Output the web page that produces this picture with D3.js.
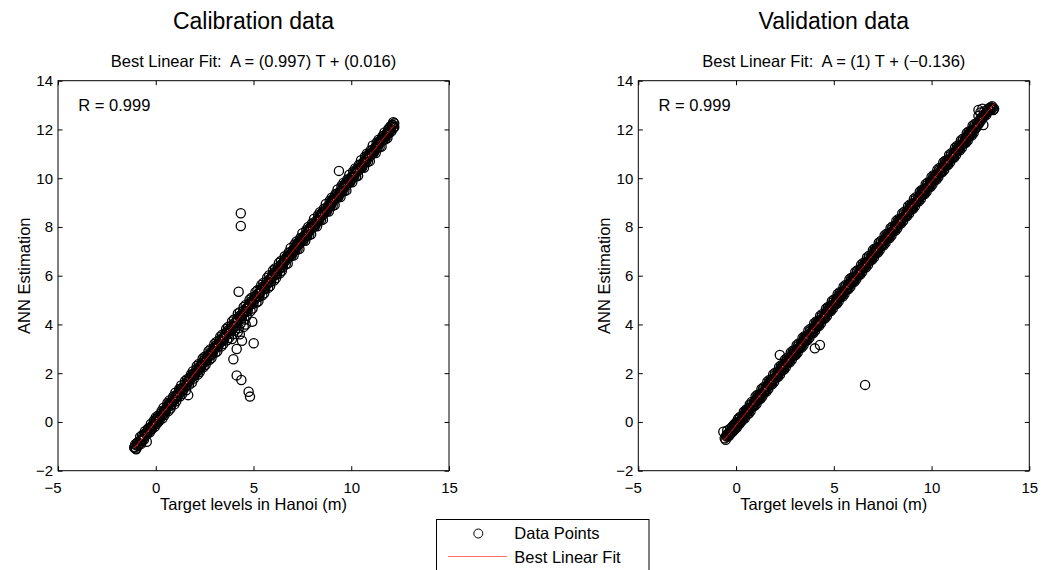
<!DOCTYPE html>
<html>
<head>
<meta charset="utf-8">
<script src="https://cdn.jsdelivr.net/npm/d3@7"></script>
<style>
  html, body { margin: 0; padding: 0; background: #fff; }
  svg { display: block; font-family: "Liberation Sans", Arial, Helvetica, sans-serif; }
  text { white-space: pre; }
</style>
</head>
<body>
<svg id="chart" width="1043" height="570"></svg>
<script>
// ---------------- DATA ----------------
const panelTitles = ["Calibration data", "Validation data"];
const fitLabels = ["Best Linear Fit:  A = (0.997) T + (0.016)", "Best Linear Fit:  A = (1) T + (\u22120.136)"];
const rLabels = ["R = 0.999", "R = 0.999"];
const fitSlope = [0.997, 1];
const fitIntercept = [0.016, -0.136];
const xTicks = [-5, 0, 5, 10, 15];
const yTicks = [-2, 0, 2, 4, 6, 8, 10, 12, 14];
const xLabel = "Target levels in Hanoi (m)";
const yLabel = "ANN Estimation";
const legendLabels = ["Data Points", "Best Linear Fit"];

// Calibration: [target, estimate] — band edges and outliers
const calPoints = [
[-1.1,-1.05],[-1.05,-0.92],[-1.0,-1.12],[-0.95,-0.85],[-0.9,-0.98],[-0.8,-0.62],[-0.75,-0.9],[-0.7,-0.55],
[-0.6,-0.72],[-0.55,-0.38],[-0.46,-0.81],[-0.45,-0.5],[-0.4,-0.28],[-0.3,-0.42],[-0.25,-0.08],[-0.2,-0.3],
[-0.1,0.05],[-0.05,-0.2],[0.0,0.18],[0.05,-0.08],[0.1,0.25],[0.15,0.02],[0.2,0.1],[0.3,0.45],[0.35,0.15],
[0.4,0.58],[0.45,0.28],[0.5,0.4],[0.6,0.78],[0.65,0.45],[0.7,0.88],[0.75,0.55],[0.8,0.7],[0.9,1.05],
[0.95,0.72],[1.0,1.2],[1.05,0.85],[1.1,1.02],[1.2,1.35],[1.25,1.05],[1.3,1.5],[1.35,1.15],[1.4,1.3],
[1.5,1.68],[1.55,1.3],[1.6,1.75],[1.66,1.1],[1.7,1.52],[1.8,1.95],[1.85,1.62],[1.9,2.08],[1.95,1.78],
[2.0,1.92],[2.1,2.3],[2.15,1.95],[2.2,2.38],[2.25,2.05],[2.3,2.2],[2.4,2.6],[2.45,2.25],[2.5,2.68],
[2.55,2.35],[2.6,2.5],[2.7,2.9],[2.75,2.55],[2.8,2.98],[2.85,2.62],[2.9,2.8],[3.0,3.2],[3.05,2.85],
[3.1,3.28],[3.15,2.9],[3.2,3.1],[3.3,3.5],[3.35,3.1],[3.4,3.58],[3.45,3.2],[3.5,3.4],[3.6,3.82],
[3.65,3.35],[3.7,3.9],[3.75,3.45],[3.8,3.65],[3.9,4.12],[3.95,3.6],[4.0,4.2],[4.05,3.75],[4.1,3.95],
[4.2,4.45],[4.25,3.85],[4.3,4.5],[4.35,4.05],[4.4,4.25],[4.5,4.72],[4.55,4.2],[4.6,4.8],[4.65,4.35],
[4.7,4.55],[4.8,5.02],[4.85,4.55],[4.9,5.1],[4.95,4.65],[5.0,4.85],[5.1,5.32],[5.15,4.9],[5.2,5.4],
[5.25,4.95],[5.3,5.15],[5.4,5.62],[5.45,5.2],[5.5,5.7],[5.55,5.28],[5.6,5.45],[5.7,5.92],[5.75,5.5],
[5.8,6.02],[5.85,5.58],[5.9,5.75],[6.0,6.22],[6.05,5.8],[6.1,6.3],[6.15,5.9],[6.2,6.05],[6.3,6.52],
[6.35,6.1],[6.4,6.6],[6.45,6.2],[6.5,6.35],[6.6,6.8],[6.65,6.47],[6.7,6.78],[6.75,6.5],[6.8,6.95],
[6.85,6.8],[6.9,7.14],[6.95,6.83],[7.0,7.02],[7.05,6.83],[7.1,7.28],[7.15,7.05],[7.2,7.4],[7.25,7.07],
[7.3,7.38],[7.35,7.1],[7.4,7.55],[7.45,7.4],[7.5,7.74],[7.55,7.43],[7.6,7.62],[7.65,7.43],[7.7,7.88],
[7.75,7.65],[7.8,8.0],[7.85,7.67],[7.9,7.98],[7.95,7.7],[8.0,8.15],[8.05,8.0],[8.1,8.34],[8.15,8.03],
[8.2,8.22],[8.25,8.03],[8.3,8.48],[8.35,8.25],[8.4,8.6],[8.45,8.27],[8.5,8.58],[8.55,8.3],[8.6,8.75],
[8.65,8.6],[8.7,8.94],[8.75,8.63],[8.8,8.82],[8.85,8.63],[8.9,9.08],[8.95,8.85],[9.0,9.2],[9.05,8.87],
[9.1,9.18],[9.15,8.9],[9.2,9.35],[9.25,9.2],[9.3,9.54],[9.37,10.3],[9.35,9.23],[9.4,9.42],[9.45,9.23],
[9.5,9.68],[9.55,9.45],[9.6,9.8],[9.65,9.47],[9.7,9.78],[9.75,9.5],[9.8,9.95],[9.85,9.8],[9.9,10.14],
[9.95,9.83],[10.0,10.02],[10.05,9.83],[10.1,10.28],[10.15,10.05],[10.2,10.4],[10.25,10.07],[10.3,10.38],
[10.35,10.1],[10.4,10.55],[10.45,10.4],[10.5,10.74],[10.55,10.43],[10.6,10.62],[10.65,10.43],[10.7,10.88],
[10.75,10.65],[10.8,11.0],[10.85,10.67],[10.9,10.98],[10.95,10.7],[11.0,11.15],[11.05,11.0],[11.1,11.34],
[11.15,11.03],[11.2,11.22],[11.25,11.03],[11.3,11.46],[11.35,11.25],[11.4,11.58],[11.45,11.27],[11.5,11.56],
[11.55,11.3],[11.6,11.72],[11.65,11.58],[11.7,11.88],[11.75,11.6],[11.8,11.8],[11.85,11.65],[11.9,12.02],
[11.95,11.85],[12.0,12.12],[12.05,11.92],[12.1,12.2],[12.15,12.05],[12.2,12.25],[12.2,12.1],[12.15,12.3],
[4.35,8.56],[4.35,8.04],[4.24,5.34],[4.94,4.11],[5.01,3.23],[3.97,2.57],[4.14,2.99],[4.41,3.33],
[4.14,1.91],[4.38,1.72],[4.75,1.24],[4.82,1.04],[4.3,3.6],[4.5,3.9],[4.2,3.7],[3.9,3.4],[4.6,4.0]
];
// Calibration: [target, estimate] — band core
const calCore = [
[-1.08,-1.03],[-1.03,-1.09],[-0.98,-0.96],[-0.93,-0.85],[-0.88,-0.91],[-0.83,-0.9],[-0.78,-0.74],[-0.73,-0.73],
[-0.68,-0.73],[-0.63,-0.56],[-0.58,-0.6],[-0.53,-0.47],[-0.48,-0.43],[-0.43,-0.49],[-0.38,-0.4],[-0.33,-0.25],
[-0.28,-0.31],[-0.23,-0.3],[-0.18,-0.14],[-0.13,-0.13],[-0.08,-0.13],[-0.03,0.04],[0.02,0.0],[0.07,0.13],
[0.12,0.17],[0.17,0.11],[0.22,0.2],[0.27,0.35],[0.32,0.29],[0.37,0.3],[0.42,0.46],[0.47,0.47],[0.52,0.47],
[0.57,0.64],[0.62,0.6],[0.67,0.73],[0.72,0.77],[0.77,0.71],[0.82,0.8],[0.87,0.95],[0.92,0.89],[0.97,0.9],
[1.02,1.06],[1.07,1.07],[1.12,1.07],[1.17,1.24],[1.22,1.2],[1.27,1.33],[1.32,1.37],[1.37,1.31],[1.42,1.4],
[1.47,1.55],[1.52,1.49],[1.57,1.5],[1.62,1.66],[1.67,1.67],[1.72,1.67],[1.77,1.84],[1.82,1.8],[1.87,1.93],
[1.92,1.97],[1.97,1.91],[2.02,2.0],[2.07,2.15],[2.12,2.09],[2.17,2.1],[2.22,2.26],[2.27,2.27],[2.32,2.27],
[2.37,2.44],[2.42,2.4],[2.47,2.53],[2.52,2.57],[2.57,2.51],[2.62,2.6],[2.67,2.75],[2.72,2.69],[2.77,2.7],
[2.82,2.86],[2.87,2.87],[2.92,2.87],[2.97,3.04],[3.02,3.0],[3.07,3.13],[3.12,3.17],[3.17,3.11],[3.22,3.2],
[3.27,3.35],[3.32,3.29],[3.37,3.3],[3.42,3.46],[3.47,3.47],[3.52,3.47],[3.57,3.64],[3.62,3.6],[3.67,3.73],
[3.72,3.77],[3.77,3.71],[3.82,3.8],[3.87,3.95],[3.92,3.89],[3.97,3.9],[4.02,4.06],[4.07,4.07],[4.12,4.07],
[4.17,4.24],[4.22,4.2],[4.27,4.33],[4.32,4.37],[4.37,4.31],[4.42,4.4],[4.47,4.55],[4.52,4.49],[4.57,4.5],
[4.62,4.66],[4.67,4.67],[4.72,4.67],[4.77,4.84],[4.82,4.8],[4.87,4.93],[4.92,4.97],[4.97,4.91],[5.02,5.0],
[5.07,5.15],[5.12,5.09],[5.17,5.1],[5.22,5.26],[5.27,5.27],[5.32,5.27],[5.37,5.44],[5.42,5.4],[5.47,5.53],
[5.52,5.57],[5.57,5.51],[5.62,5.6],[5.67,5.75],[5.72,5.69],[5.77,5.7],[5.82,5.86],[5.87,5.87],[5.92,5.87],
[5.97,6.04],[6.02,6.0],[6.07,6.13],[6.12,6.17],[6.17,6.11],[6.22,6.2],[6.27,6.35],[6.32,6.29],[6.37,6.3],
[6.42,6.46],[6.47,6.47],[6.52,6.47],[6.57,6.64],[6.62,6.6],[6.67,6.73],[6.72,6.77],[6.77,6.71],[6.82,6.8],
[6.87,6.95],[6.92,6.89],[6.97,6.9],[7.02,7.06],[7.07,7.07],[7.12,7.07],[7.17,7.24],[7.22,7.2],[7.27,7.33],
[7.32,7.37],[7.37,7.31],[7.42,7.4],[7.47,7.55],[7.52,7.49],[7.57,7.5],[7.62,7.66],[7.67,7.67],[7.72,7.67],
[7.77,7.84],[7.82,7.8],[7.87,7.93],[7.92,7.97],[7.97,7.91],[8.02,8.0],[8.07,8.15],[8.12,8.09],[8.17,8.1],
[8.22,8.26],[8.27,8.27],[8.32,8.27],[8.37,8.44],[8.42,8.4],[8.47,8.53],[8.52,8.57],[8.57,8.51],[8.62,8.6],
[8.67,8.75],[8.72,8.69],[8.77,8.7],[8.82,8.86],[8.87,8.87],[8.92,8.87],[8.97,9.04],[9.02,9.0],[9.07,9.13],
[9.12,9.17],[9.17,9.11],[9.22,9.2],[9.27,9.35],[9.32,9.29],[9.37,9.3],[9.42,9.46],[9.47,9.47],[9.52,9.47],
[9.57,9.64],[9.62,9.6],[9.67,9.73],[9.72,9.77],[9.77,9.71],[9.82,9.8],[9.87,9.95],[9.92,9.89],[9.97,9.9],
[10.02,10.06],[10.07,10.07],[10.12,10.07],[10.17,10.24],[10.22,10.2],[10.27,10.33],[10.32,10.37],[10.37,10.31],
[10.42,10.4],[10.47,10.55],[10.52,10.49],[10.57,10.5],[10.62,10.66],[10.67,10.67],[10.72,10.67],[10.77,10.84],
[10.82,10.8],[10.87,10.93],[10.92,10.97],[10.97,10.91],[11.02,11.0],[11.07,11.15],[11.12,11.09],[11.17,11.1],
[11.22,11.26],[11.27,11.27],[11.32,11.27],[11.37,11.44],[11.42,11.4],[11.47,11.53],[11.52,11.57],[11.57,11.51],
[11.62,11.6],[11.67,11.75],[11.72,11.69],[11.77,11.7],[11.82,11.86],[11.87,11.87],[11.92,11.87],[11.97,12.04],
[12.02,12.0],[12.07,12.13],[12.12,12.17],[12.17,12.11]
];

// Validation: [target, estimate] — band edges and outliers
const valPoints = [
[-0.65,-0.4],[-0.31,-0.47],[-0.5,-0.55],[-0.45,-0.35],[-0.4,-0.6],[-0.35,-0.42],[-0.3,-0.28],[-0.25,-0.45],
[-0.2,-0.2],[-0.15,-0.38],[-0.1,-0.1],[-0.05,-0.3],[0.0,-0.02],[0.05,-0.22],[0.1,0.12],[0.15,-0.1],
[0.2,0.2],[0.25,0.0],[0.3,0.08],[0.35,0.1],[0.4,0.42],[0.45,0.15],[0.5,0.5],[0.55,0.3],[0.6,0.45],
[0.65,0.35],[0.7,0.72],[0.75,0.45],[0.8,0.82],[0.85,0.62],[0.9,0.7],[0.95,0.66],[1.0,1.05],[1.05,0.75],
[1.1,1.12],[1.15,0.92],[1.2,1.0],[1.25,0.95],[1.3,1.35],[1.35,1.05],[1.4,1.42],[1.45,1.22],[1.5,1.3],
[1.55,1.25],[1.6,1.65],[1.65,1.35],[1.7,1.72],[1.75,1.52],[1.8,1.6],[1.85,1.55],[1.9,1.95],[1.95,1.65],
[2.0,2.02],[2.05,1.82],[2.1,1.9],[2.15,1.85],[2.2,2.25],[2.24,2.75],[2.25,1.95],[2.3,2.32],[2.35,2.12],
[2.4,2.2],[2.45,2.15],[2.5,2.55],[2.55,2.25],[2.6,2.62],[2.65,2.42],[2.7,2.5],[2.75,2.45],[2.8,2.85],
[2.85,2.55],[2.9,2.92],[2.95,2.72],[3.0,2.8],[3.05,2.75],[3.1,3.15],[3.15,2.85],[3.2,3.22],[3.25,3.02],
[3.3,3.1],[3.35,3.05],[3.4,3.45],[3.45,3.15],[3.5,3.52],[3.55,3.32],[3.6,3.4],[3.65,3.35],[3.7,3.75],
[3.75,3.45],[3.8,3.82],[3.85,3.62],[3.9,3.7],[3.95,3.65],[4.0,4.05],[4.03,3.02],[4.29,3.16],[4.05,3.75],
[4.1,4.12],[4.15,3.92],[4.2,4.0],[4.25,3.95],[4.3,4.35],[4.35,4.05],[4.4,4.42],[4.45,4.22],[4.5,4.3],
[4.55,4.25],[4.6,4.65],[4.65,4.35],[4.7,4.72],[4.75,4.52],[4.8,4.6],[4.85,4.55],[4.9,4.95],[4.95,4.65],
[5.0,5.02],[5.05,4.82],[5.1,4.9],[5.15,4.85],[5.2,5.25],[5.25,4.95],[5.3,5.32],[5.35,5.12],[5.4,5.2],
[5.45,5.15],[5.5,5.55],[5.55,5.25],[5.6,5.62],[5.65,5.42],[5.7,5.5],[5.75,5.45],[5.8,5.85],[5.85,5.55],
[5.9,5.92],[5.95,5.72],[6.0,5.8],[6.05,5.75],[6.1,6.15],[6.15,5.85],[6.2,6.22],[6.25,6.02],[6.3,6.1],
[6.35,6.05],[6.4,6.45],[6.45,6.15],[6.5,6.52],[6.55,6.32],[6.6,6.4],[6.65,6.35],[6.7,6.75],[6.75,6.45],
[6.8,6.82],[6.85,6.62],[6.9,6.7],[6.95,6.65],[7.0,7.05],[7.05,6.75],[7.1,7.12],[7.15,6.92],[7.2,7.0],
[7.25,6.95],[7.3,7.35],[7.35,7.05],[7.4,7.42],[7.45,7.22],[7.5,7.3],[7.55,7.25],[7.6,7.65],[7.65,7.35],
[7.7,7.72],[7.75,7.52],[7.8,7.6],[7.85,7.55],[7.9,7.95],[7.95,7.65],[8.0,8.02],[8.05,7.82],[8.1,7.9],
[8.15,7.85],[8.2,8.25],[8.25,7.95],[8.3,8.32],[8.35,8.12],[8.4,8.2],[8.45,8.15],[8.5,8.55],[8.55,8.25],
[8.6,8.62],[8.65,8.42],[8.7,8.5],[8.75,8.45],[8.8,8.85],[8.85,8.55],[8.9,8.92],[8.95,8.72],[9.0,8.8],
[9.05,8.75],[9.1,9.15],[9.15,8.85],[9.2,9.22],[9.25,9.02],[9.3,9.1],[9.35,9.05],[9.4,9.45],[9.45,9.15],
[9.5,9.52],[9.55,9.32],[9.6,9.4],[9.65,9.35],[9.7,9.75],[9.75,9.45],[9.8,9.82],[9.85,9.62],[9.9,9.7],
[9.95,9.65],[10.0,10.05],[10.05,9.75],[10.1,10.12],[10.15,9.92],[10.2,10.0],[10.25,9.95],[10.3,10.35],
[10.35,10.05],[10.4,10.42],[10.45,10.22],[10.5,10.3],[10.55,10.25],[10.6,10.65],[10.65,10.35],[10.7,10.72],
[10.75,10.52],[10.8,10.6],[10.85,10.55],[10.9,10.95],[10.95,10.65],[11.0,11.02],[11.05,10.82],[11.1,10.9],
[11.15,10.85],[11.2,11.25],[11.25,10.95],[11.3,11.32],[11.35,11.12],[11.4,11.2],[11.45,11.15],[11.5,11.55],
[11.55,11.25],[11.6,11.62],[11.65,11.42],[11.7,11.5],[11.75,11.45],[11.8,11.85],[11.85,11.55],[11.9,11.92],
[11.95,11.72],[12.0,11.8],[12.05,11.75],[12.1,12.15],[12.15,11.85],[12.2,12.22],[12.25,12.05],[12.3,12.1],
[12.35,12.2],[12.4,12.55],[12.45,12.3],[12.5,12.7],[12.55,12.45],[12.65,12.18],[12.6,12.85],[12.7,12.75],
[12.8,12.6],[12.9,12.85],[13.0,12.9],[13.1,12.95],[13.16,12.8],[13.2,12.85],[12.4,12.8],[6.6,1.52]
];
// Validation: [target, estimate] — band core
const valCore = [
[-0.58,-0.67],[-0.53,-0.73],[-0.48,-0.6],[-0.43,-0.49],[-0.38,-0.55],[-0.33,-0.54],[-0.28,-0.38],[-0.23,-0.37],
[-0.18,-0.37],[-0.13,-0.2],[-0.08,-0.24],[-0.03,-0.11],[0.02,-0.07],[0.07,-0.13],[0.12,-0.04],[0.17,0.11],
[0.22,0.05],[0.27,0.06],[0.32,0.22],[0.37,0.23],[0.42,0.23],[0.47,0.4],[0.52,0.36],[0.57,0.49],[0.62,0.53],
[0.67,0.47],[0.72,0.56],[0.77,0.71],[0.82,0.65],[0.87,0.66],[0.92,0.82],[0.97,0.83],[1.02,0.83],[1.07,1.0],
[1.12,0.96],[1.17,1.09],[1.22,1.13],[1.27,1.07],[1.32,1.16],[1.37,1.31],[1.42,1.25],[1.47,1.26],[1.52,1.42],
[1.57,1.43],[1.62,1.43],[1.67,1.6],[1.72,1.56],[1.77,1.69],[1.82,1.73],[1.87,1.67],[1.92,1.76],[1.97,1.91],
[2.02,1.85],[2.07,1.86],[2.12,2.02],[2.17,2.03],[2.22,2.03],[2.27,2.2],[2.32,2.16],[2.37,2.29],[2.42,2.33],
[2.47,2.27],[2.52,2.36],[2.57,2.51],[2.62,2.45],[2.67,2.46],[2.72,2.62],[2.77,2.63],[2.82,2.63],[2.87,2.8],
[2.92,2.76],[2.97,2.89],[3.02,2.93],[3.07,2.87],[3.12,2.96],[3.17,3.11],[3.22,3.05],[3.27,3.06],[3.32,3.22],
[3.37,3.23],[3.42,3.23],[3.47,3.4],[3.52,3.36],[3.57,3.49],[3.62,3.53],[3.67,3.47],[3.72,3.56],[3.77,3.71],
[3.82,3.65],[3.87,3.66],[3.92,3.82],[3.97,3.83],[4.02,3.83],[4.07,4.0],[4.12,3.96],[4.17,4.09],[4.22,4.13],
[4.27,4.07],[4.32,4.16],[4.37,4.31],[4.42,4.25],[4.47,4.26],[4.52,4.42],[4.57,4.43],[4.62,4.43],[4.67,4.6],
[4.72,4.56],[4.77,4.69],[4.82,4.73],[4.87,4.67],[4.92,4.76],[4.97,4.91],[5.02,4.85],[5.07,4.86],[5.12,5.02],
[5.17,5.03],[5.22,5.03],[5.27,5.2],[5.32,5.16],[5.37,5.29],[5.42,5.33],[5.47,5.27],[5.52,5.36],[5.57,5.51],
[5.62,5.45],[5.67,5.46],[5.72,5.62],[5.77,5.63],[5.82,5.63],[5.87,5.8],[5.92,5.76],[5.97,5.89],[6.02,5.93],
[6.07,5.87],[6.12,5.96],[6.17,6.11],[6.22,6.05],[6.27,6.06],[6.32,6.22],[6.37,6.23],[6.42,6.23],[6.47,6.4],
[6.52,6.36],[6.57,6.49],[6.62,6.53],[6.67,6.47],[6.72,6.56],[6.77,6.71],[6.82,6.65],[6.87,6.66],[6.92,6.82],
[6.97,6.83],[7.02,6.83],[7.07,7.0],[7.12,6.96],[7.17,7.09],[7.22,7.13],[7.27,7.07],[7.32,7.16],[7.37,7.31],
[7.42,7.25],[7.47,7.26],[7.52,7.42],[7.57,7.43],[7.62,7.43],[7.67,7.6],[7.72,7.56],[7.77,7.69],[7.82,7.73],
[7.87,7.67],[7.92,7.76],[7.97,7.91],[8.02,7.85],[8.07,7.86],[8.12,8.02],[8.17,8.03],[8.22,8.03],[8.27,8.2],
[8.32,8.16],[8.37,8.29],[8.42,8.33],[8.47,8.27],[8.52,8.36],[8.57,8.51],[8.62,8.45],[8.67,8.46],[8.72,8.62],
[8.77,8.63],[8.82,8.63],[8.87,8.8],[8.92,8.76],[8.97,8.89],[9.02,8.93],[9.07,8.87],[9.12,8.96],[9.17,9.11],
[9.22,9.05],[9.27,9.06],[9.32,9.22],[9.37,9.23],[9.42,9.23],[9.47,9.4],[9.52,9.36],[9.57,9.49],[9.62,9.53],
[9.67,9.47],[9.72,9.56],[9.77,9.71],[9.82,9.65],[9.87,9.66],[9.92,9.82],[9.97,9.83],[10.02,9.83],[10.07,10.0],
[10.12,9.96],[10.17,10.09],[10.22,10.13],[10.27,10.07],[10.32,10.16],[10.37,10.31],[10.42,10.25],[10.47,10.26],
[10.52,10.42],[10.57,10.43],[10.62,10.43],[10.67,10.6],[10.72,10.56],[10.77,10.69],[10.82,10.73],[10.87,10.67],
[10.92,10.76],[10.97,10.91],[11.02,10.85],[11.07,10.86],[11.12,11.02],[11.17,11.03],[11.22,11.03],[11.27,11.2],
[11.32,11.16],[11.37,11.29],[11.42,11.33],[11.47,11.27],[11.52,11.36],[11.57,11.51],[11.62,11.45],[11.67,11.46],
[11.72,11.62],[11.77,11.63],[11.82,11.63],[11.87,11.8],[11.92,11.76],[11.97,11.89],[12.02,11.93],[12.07,11.87],
[12.12,11.96],[12.17,12.11],[12.22,12.05],[12.27,12.06],[12.32,12.22],[12.37,12.23],[12.42,12.23],[12.47,12.4],
[12.52,12.36],[12.57,12.49],[12.62,12.53],[12.67,12.52],[12.72,12.6],[12.77,12.68],[12.82,12.7],[12.87,12.72],
[12.92,12.78],[12.97,12.8],[13.02,12.85],[13.07,12.9],[13.12,12.88]
];
const panelData = [calPoints.concat(calCore), valPoints.concat(valCore)];

// ---------------- LAYOUT ----------------
const svg = d3.select("#chart");
const panelLeft = [58, 638.3];
const plotW = 391, plotTop = 80.7, plotBottom = 470.7;
const font = 16.5, tickFont = 15;

panelData.forEach((pts, i) => {
  const x0 = panelLeft[i];
  const x = d3.scaleLinear().domain([-5, 15]).range([x0, x0 + plotW]);
  const y = d3.scaleLinear().domain([-2, 14]).range([plotBottom, plotTop]);
  const g = svg.append("g");
  const cx = x0 + plotW / 2;

  g.append("text").attr("x", cx).attr("y", 29).attr("text-anchor", "middle")
    .attr("font-size", 23).text(panelTitles[i]);
  g.append("text").attr("x", cx).attr("y", 66.7).attr("text-anchor", "middle")
    .attr("font-size", font).text(fitLabels[i]);

  g.append("rect").attr("x", x0).attr("y", plotTop).attr("width", plotW)
    .attr("height", plotBottom - plotTop).attr("fill", "#fff");

  g.append("g").selectAll("circle").data(pts).join("circle")
    .attr("cx", d => x(d[0])).attr("cy", d => y(d[1])).attr("r", 4.6)
    .attr("fill", "none").attr("stroke", "#000").attr("stroke-width", 1.3);

  const ext = d3.extent(pts, d => d[0]);
  const line = d3.line().x(d => x(d)).y(d => y(fitSlope[i] * d + fitIntercept[i]));
  g.append("path").attr("d", line(ext)).attr("fill", "none")
    .attr("stroke", "#ff0000").attr("stroke-width", 1);

  const ax = (sel) => { sel.select(".domain").remove(); sel.selectAll("line").attr("stroke", "#000"); };
  const txt = (s) => s.selectAll("text").attr("font-size", tickFont).attr("fill", "#000");
  g.append("g").attr("transform", `translate(0,${plotBottom})`)
    .call(d3.axisBottom(x).tickValues(xTicks).tickSizeInner(-4.5).tickSizeOuter(0).tickPadding(11.3))
    .call(ax).call(txt)
    .call(s => s.selectAll("text").each(function(d) { if (d < 0) d3.select(this).attr("text-anchor", "end").attr("x", 3); }));
  g.append("g").attr("transform", `translate(0,${plotTop})`)
    .call(d3.axisTop(x).tickValues(xTicks).tickSizeInner(-4.5).tickSizeOuter(0).tickFormat(""))
    .call(ax);
  g.append("g").attr("transform", `translate(${x0},0)`)
    .call(d3.axisLeft(y).tickValues(yTicks).tickSizeInner(-4.5).tickSizeOuter(0).tickPadding(5))
    .call(ax).call(txt);
  g.append("g").attr("transform", `translate(${x0 + plotW},0)`)
    .call(d3.axisRight(y).tickValues(yTicks).tickSizeInner(-4.5).tickSizeOuter(0).tickFormat(""))
    .call(ax);
  g.selectAll("g[font-family]").attr("font-family", null).attr("font-size", null);

  g.append("rect").attr("x", x0).attr("y", plotTop).attr("width", plotW)
    .attr("height", plotBottom - plotTop).attr("fill", "none").attr("stroke", "#000").attr("stroke-width", 1);

  g.append("text").attr("x", x0 + 20.3).attr("y", 110.7).attr("font-size", font).text(rLabels[i]);

  g.append("text").attr("x", cx).attr("y", 510).attr("text-anchor", "middle")
    .attr("font-size", font).text(xLabel);
  g.append("text").attr("transform", `translate(${x0 - 28},${(plotTop + plotBottom) / 2}) rotate(-90)`)
    .attr("text-anchor", "middle").attr("font-size", font).text(yLabel);
});

// legend
const lg = svg.append("g");
lg.append("rect").attr("x", 436.5).attr("y", 519.5).attr("width", 212.5).attr("height", 60)
  .attr("fill", "#fff").attr("stroke", "#000").attr("stroke-width", 1);
lg.append("circle").attr("cx", 478.3).attr("cy", 533.5).attr("r", 4.5)
  .attr("fill", "none").attr("stroke", "#000");
lg.append("line").attr("x1", 448).attr("x2", 507).attr("y1", 556.5).attr("y2", 556.5)
  .attr("stroke", "#ff7070").attr("stroke-width", 1.2);
lg.selectAll("text.lab").data(legendLabels).join("text").attr("class", "lab")
  .attr("x", 514.3).attr("y", (d, k) => 539 + k * 23.5).attr("font-size", font).text(d => d);
</script>
</body>
</html>
